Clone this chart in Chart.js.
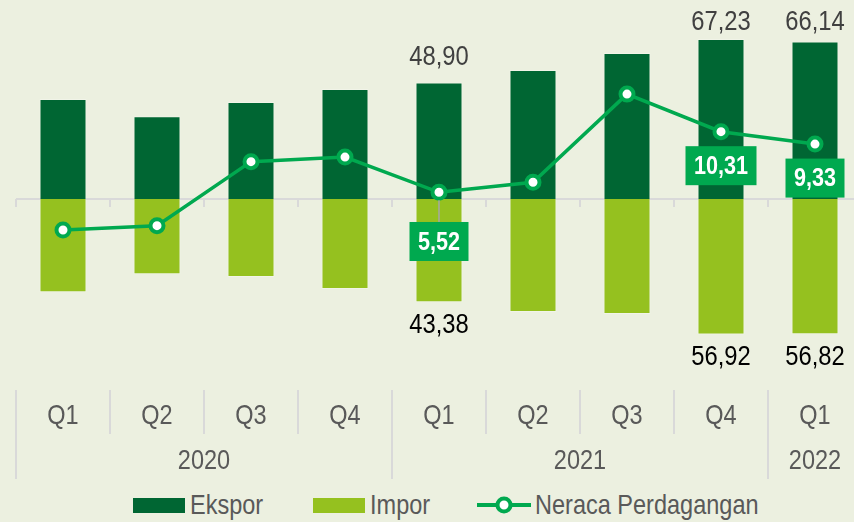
<!DOCTYPE html>
<html>
<head>
<meta charset="utf-8">
<script src="https://cdn.jsdelivr.net/npm/chart.js@4.4.0/dist/chart.umd.min.js"></script>
<style>
  html, body { margin: 0; padding: 0; background: #ECF0E0; overflow: hidden; width: 854px; height: 522px; }
  #wrap { position: relative; width: 854px; height: 522px; overflow: hidden; }
  #chart { position: absolute; left: 0; top: 0; }
  .item { position: absolute; top: 491px; height: 28px; display: flex; align-items: center;
          font-family: "Liberation Sans", Arial, sans-serif;
          font-size: 28px; line-height: 28px; color: #595959; white-space: nowrap; }
  .item span { display: inline-block; transform: scaleX(0.84); transform-origin: left center; }
  .swatch { width: 52px; height: 15px; margin-right: 5px; }
  .linesw { width: 54px; height: 20px; margin-right: 4px; }
</style>
</head>
<body>
<div id="wrap">
  <canvas id="chart" width="862" height="480"></canvas>
  <div class="item" style="left:133px"><div class="swatch" style="background:#006633"></div><span>Ekspor</span></div>
  <div class="item" style="left:313px"><div class="swatch" style="background:#95C11F"></div><span>Impor</span></div>
  <div class="item" style="left:477px">
    <svg class="linesw" viewBox="0 0 54 20"><line x1="0" y1="10" x2="54" y2="10" stroke="#00A94F" stroke-width="4"/><circle cx="27" cy="10" r="6.5" fill="#fff" stroke="#00A94F" stroke-width="4"/></svg>
    <span>Neraca Perdagangan</span>
  </div>
</div>
<script>
const FONT = '"Liberation Sans", Arial, sans-serif';

const quarters = ['Q1', 'Q2', 'Q3', 'Q4', 'Q1', 'Q2', 'Q3', 'Q4', 'Q1'];
const years = ['2020', '2021', '2022'];
const quartersPerYear = [4, 4, 1];
const ekspor = [42.0, 34.8, 40.7, 46.2, 48.90, 54.2, 61.3, 67.23, 66.14];
const impor = [39.2, 31.6, 32.8, 37.8, 43.38, 47.5, 48.3, 56.92, 56.82];
const neraca = [2.54, 2.88, 7.94, 8.30, 5.52, 6.31, 13.28, 10.31, 9.33];
const labelled = [4, 7, 8];

const fmt = v => v.toFixed(2).replace('.', ',');

// year tick centres and boundaries, from the quarter counts
const yearStarts = [];
let acc = 0;
quartersPerYear.forEach(n => { yearStarts.push(acc); acc += n; });
const yearCenters = yearStarts.map((s, i) => s + (quartersPerYear[i] - 1) / 2);

// narrow text: Arial Narrow is not available, so squeeze Liberation Sans
function narrowText(ctx, text, x, y, font, color, sx) {
  ctx.save();
  ctx.font = font;
  ctx.fillStyle = color;
  ctx.textAlign = 'center';
  ctx.textBaseline = 'middle';
  ctx.translate(x, y);
  ctx.scale(sx, 1);
  ctx.fillText(text, 0, 0);
  ctx.restore();
}

const decor = {
  id: 'decor',
  beforeDatasetsDraw(chart) {
    const {ctx, chartArea, scales: {x, y}} = chart;
    const y0 = Math.round(y.getPixelForValue(0));
    ctx.save();
    ctx.strokeStyle = '#D9D9D9';
    ctx.lineWidth = 2;
    ctx.beginPath();
    ctx.moveTo(x.getPixelForValue(-0.5), y0);
    ctx.lineTo(chartArea.right, y0);
    for (let i = 0; i < quarters.length; i++) {
      const bx = Math.round(x.getPixelForValue(i - 0.5));
      ctx.moveTo(bx, y0);
      ctx.lineTo(bx, y0 + 8);
    }
    ctx.stroke();
    ctx.restore();
  },
  afterDraw(chart) {
    const {ctx, chartArea, scales: {x, xYear}} = chart;
    ctx.save();
    ctx.strokeStyle = '#D9D9D9';
    ctx.lineWidth = 2;
    ctx.beginPath();
    for (let i = 0; i <= quarters.length; i++) {
      const bx = Math.round(x.getPixelForValue(i - 0.5));
      const bottom = yearStarts.includes(i) || i === quarters.length ? xYear.bottom - 1 : x.bottom - 1;
      ctx.moveTo(bx, chartArea.bottom);
      ctx.lineTo(bx, bottom);
    }
    ctx.stroke();
    ctx.restore();
    // axis labels, placed by the two x scales
    x.ticks.forEach((t, i) => {
      narrowText(ctx, x.getLabelForValue(t.value), x.getPixelForValue(t.value), x.top + 26,
        '28px ' + FONT, '#595959', 0.84);
    });
    xYear.ticks.forEach((t, i) => {
      narrowText(ctx, years[i], xYear.getPixelForValue(t.value), xYear.top + 26,
        '28px ' + FONT, '#595959', 0.84);
    });
  }
};

const valueLabels = {
  id: 'valueLabels',
  afterDatasetsDraw(chart) {
    const {ctx, scales: {y}} = chart;
    const y0 = y.getPixelForValue(0);
    const ek = chart.getDatasetMeta(0).data;
    const im = chart.getDatasetMeta(1).data;
    const ln = chart.getDatasetMeta(2).data;
    labelled.forEach(i => {
      narrowText(ctx, fmt(ekspor[i]), ek[i].x, Math.max(ek[i].y - 25, 22), '28px ' + FONT, '#404040', 0.85);
      narrowText(ctx, fmt(impor[i]), im[i].x, im[i].y + 23, '28px ' + FONT, '#000000', 0.85);

      const p = ln[i];
      const boxFont = 'bold 26px ' + FONT;
      ctx.save();
      ctx.font = boxFont;
      const w = ctx.measureText(fmt(neraca[i])).width * 0.83 + 17;
      const h = 39;
      let cy = p.y + 34;
      if (cy + h / 2 > y0 - 1) {
        cy = y0 + 23 + h / 2;
        ctx.strokeStyle = '#A6A6A6';
        ctx.lineWidth = 1.5;
        ctx.beginPath();
        ctx.moveTo(p.x, p.y + 8);
        ctx.lineTo(p.x, cy - h / 2);
        ctx.stroke();
      }
      ctx.fillStyle = '#00A94F';
      ctx.fillRect(p.x - w / 2, cy - h / 2, w, h);
      ctx.restore();
      narrowText(ctx, fmt(neraca[i]), p.x, cy + 1, boxFont, '#FFFFFF', 0.83);
    });
  }
};

new Chart(document.getElementById('chart'), {
  data: {
    labels: quarters,
    datasets: [
      {
        type: 'bar',
        label: 'Ekspor',
        data: ekspor,
        backgroundColor: '#006633',
        borderColor: 'rgba(255,255,255,0.25)',
        borderWidth: 1,
        categoryPercentage: 1,
        barPercentage: 0.5,
        yAxisID: 'y',
        order: 1
      },
      {
        type: 'bar',
        label: 'Impor',
        data: impor.map(v => -v),
        backgroundColor: '#95C11F',
        borderColor: 'rgba(255,255,255,0.25)',
        borderWidth: 1,
        categoryPercentage: 1,
        barPercentage: 0.5,
        yAxisID: 'y',
        order: 1
      },
      {
        type: 'line',
        label: 'Neraca Perdagangan',
        data: neraca,
        borderColor: '#00A94F',
        borderWidth: 3.5,
        pointRadius: 6.5,
        pointBorderWidth: 4,
        pointBackgroundColor: '#FFFFFF',
        pointBorderColor: '#00A94F',
        tension: 0,
        yAxisID: 'y1',
        order: 0
      }
    ]
  },
  options: {
    responsive: false,
    animation: false,
    layout: { autoPadding: false, padding: { left: 16, right: 0, top: 0, bottom: 0 } },
    plugins: { legend: { display: false }, tooltip: { enabled: false } },
    scales: {
      x: {
        type: 'category',
        offset: true,
        stacked: true,
        weight: 0,
        grid: { display: false, drawTicks: false },
        border: { display: false },
        ticks: { display: false, autoSkip: false },
        afterFit: s => { s.height = 45; }
      },
      xYear: {
        type: 'linear',
        position: 'bottom',
        min: -0.5,
        max: 8.5,
        weight: 1,
        grid: { display: false, drawTicks: false },
        border: { display: false },
        afterBuildTicks: s => { s.ticks = yearCenters.map(v => ({ value: v })); },
        ticks: { display: false },
        afterFit: s => { s.height = 45; }
      },
      y: { display: false, stacked: true, min: -80.25, max: 83.6 },
      y1: { display: false, min: -10.11, max: 20.72 }
    }
  },
  plugins: [decor, valueLabels]
});
</script>
</body>
</html>
